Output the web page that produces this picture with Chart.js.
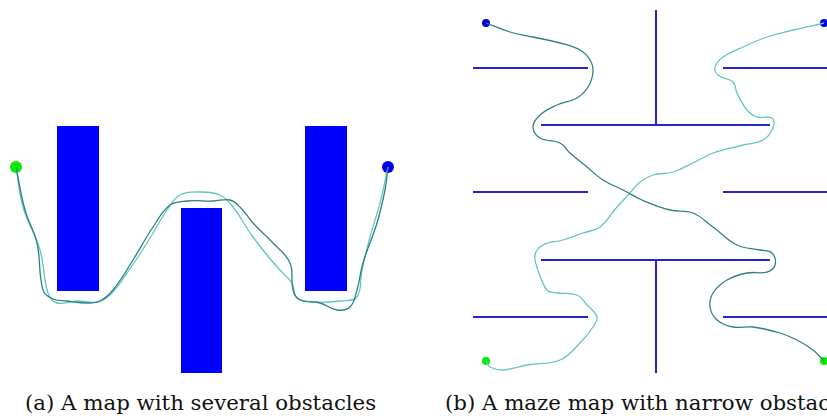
<!DOCTYPE html>
<html>
<head>
<meta charset="utf-8">
<script src="https://cdn.jsdelivr.net/npm/chart.js@4.4.1/dist/chart.umd.min.js"></script>
<style>
  html, body { margin: 0; padding: 0; background: #fff; overflow: hidden; }
  body { width: 827px; height: 416px; position: relative; }
  .panel { position: absolute; }
  .caption { position: absolute; top: 392px; font-family: "DejaVu Serif", serif; font-size: 21.3px; line-height: 21px; color: #111; white-space: nowrap; }
</style>
</head>
<body>
<div class="panel" style="left:0px; top:110px;"><canvas id="mapA" width="400" height="270"></canvas></div>
<div class="panel" style="left:460px; top:0px;"><canvas id="mapB" width="400" height="380"></canvas></div>
<div class="caption" id="capA" style="left:25px;">(a) A map with several obstacles</div>
<div class="caption" id="capB" style="left:445px;">(b) A maze map with narrow obstacles</div>
<script>
// ---- mapa (a): obstáculos rectangulares [x0, yTop, x1, yBottom]
var obstaculosA = [
    [57, 16, 99, 181],
    [181, 98, 222, 263],
    [305, 16, 347, 181]
];
var inicioA = [{x: 16, y: 57}];
var metaA = [{x: 388, y: 57}];
// trayectorias (a)
var rutaA1_x = [16, 25, 37, 43, 53, 67, 87, 100, 113, 133, 153, 170, 187, 213, 230, 240, 253, 273, 290, 293, 300, 320, 337, 350, 357, 363, 377, 385, 388];
var rutaA1_y = [57, 100, 133, 180, 189, 191, 193, 191, 180, 150, 117, 95, 91, 91, 90, 97, 113, 133, 153, 180, 190, 193, 200, 197, 180, 153, 113, 80, 57];
var rutaA2_x = [16, 23, 40, 48, 57, 77, 97, 110, 127, 147, 167, 180, 200, 220, 233, 253, 277, 292, 297, 317, 340, 357, 362, 370, 380, 388];
var rutaA2_y = [57, 97, 140, 183, 193, 191, 192, 185, 163, 133, 100, 85, 82, 85, 97, 127, 157, 173, 188, 192, 191, 187, 160, 127, 93, 57];

// ---- mapa (b): paredes [x0, y0, x1, y1]
var paredesB = [
    [196, 10, 196, 125], [81, 125, 310, 125],
    [13, 68, 128, 68], [263, 68, 380, 68],
    [13, 192, 128, 192], [263, 192, 380, 192],
    [81, 260, 310, 260], [196, 260, 196, 373],
    [13, 317, 128, 317], [263, 317, 380, 317]
];
var iniciosB = [{x: 26, y: 361}, {x: 364, y: 361}];
var metasB = [{x: 26, y: 23}, {x: 364, y: 23}];
var rutaB1_x = [26, 50, 73, 100, 120, 130, 133, 128, 117, 97, 80, 73, 80, 100, 110, 127, 143, 163, 182, 210, 233, 253, 277, 300, 312, 315, 307, 287, 267, 253, 250, 257, 273, 293, 320, 337, 353, 364];
var rutaB1_y = [23, 32, 37, 43, 50, 60, 72, 87, 98, 105, 115, 127, 138, 143, 153, 167, 180, 190, 200, 210, 213, 227, 245, 250, 253, 265, 272, 273, 280, 293, 307, 320, 327, 327, 333, 340, 350, 361];
var rutaB2_x = [364, 333, 307, 283, 263, 255, 258, 273, 277, 287, 297, 312, 313, 303, 283, 253, 233, 213, 193, 180, 170, 157, 140, 123, 103, 83, 75, 78, 87, 97, 117, 127, 137, 133, 120, 100, 67, 43, 30, 26];
var rutaB2_y = [23, 30, 37, 47, 57, 67, 75, 82, 93, 110, 117, 118, 128, 140, 145, 153, 163, 172, 175, 182, 193, 207, 227, 233, 240, 245, 255, 270, 290, 293, 295, 305, 317, 327, 343, 360, 365, 370, 367, 361];

var colorOscuro = '#2f8080';
var colorClaro = '#63c4c4';

function puntos(xs, ys) {
    return xs.map(function (x, i) { return {x: x, y: ys[i]}; });
}

function ruta(xs, ys, color) {
    return {
        data: puntos(xs, ys),
        showLine: true,
        borderColor: color,
        borderWidth: 1.3,
        pointRadius: 0,
        tension: 0.4,
        fill: false
    };
}

function punto(data, color, r) {
    return {data: data, showLine: false, pointRadius: r, pointBackgroundColor: color, pointBorderColor: color, pointBorderWidth: 0};
}

function opciones(xmax, ymax) {
    return {
        responsive: false,
        animation: false,
        layout: {padding: 0, autoPadding: false},
        plugins: {legend: {display: false}, tooltip: {enabled: false}},
        scales: {
            x: {type: 'linear', min: 0, max: xmax, display: false},
            y: {type: 'linear', min: 0, max: ymax, reverse: true, display: false}
        }
    };
}

// Mapa (a)
var datosA = [];
obstaculosA.forEach(function (r) {
    datosA.push({
        data: [{x: r[0], y: r[1]}, {x: r[2], y: r[1]}, {x: r[2], y: r[3]}, {x: r[0], y: r[3]}, {x: r[0], y: r[1]}],
        showLine: true,
        borderColor: '#0000ff',
        borderWidth: 0,
        borderJoinStyle: 'miter',
        backgroundColor: '#0000ff',
        pointRadius: 0,
        fill: 'shape'
    });
});
datosA.push(ruta(rutaA1_x, rutaA1_y, colorOscuro));
datosA.push(ruta(rutaA2_x, rutaA2_y, colorClaro));
datosA.push(punto(inicioA, '#00ee00', 6));
datosA.push(punto(metaA, '#0000ee', 6));

new Chart(document.getElementById('mapA').getContext('2d'), {
    type: 'scatter',
    data: {datasets: datosA},
    options: opciones(400, 270)
});

// Mapa (b)
var datosB = [];
paredesB.forEach(function (p) {
    datosB.push({
        data: [{x: p[0], y: p[1]}, {x: p[2], y: p[3]}],
        showLine: true,
        borderColor: '#2424d0',
        borderWidth: 2,
        borderCapStyle: 'butt',
        pointRadius: 0
    });
});
datosB.push(ruta(rutaB1_x, rutaB1_y, colorOscuro));
datosB.push(ruta(rutaB2_x, rutaB2_y, colorClaro));
datosB.push(punto(iniciosB, '#00ee00', 4));
datosB.push(punto(metasB, '#0000dd', 4));

new Chart(document.getElementById('mapB').getContext('2d'), {
    type: 'scatter',
    data: {datasets: datosB},
    options: opciones(400, 380)
});
</script>
</body>
</html>
